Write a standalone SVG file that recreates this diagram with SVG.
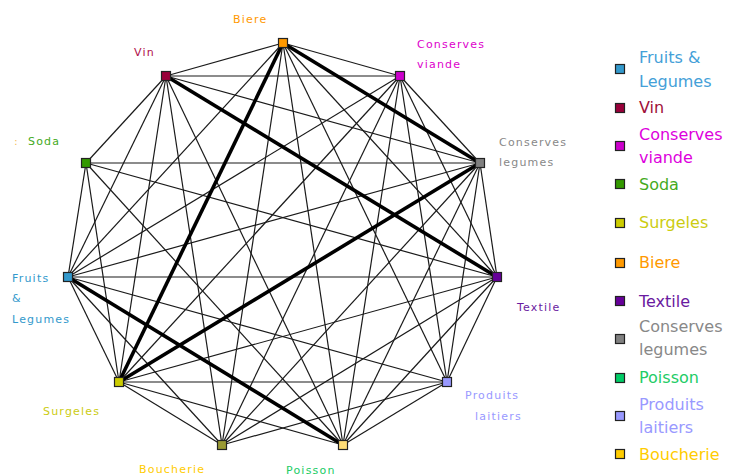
<svg xmlns="http://www.w3.org/2000/svg" width="729" height="476" viewBox="0 0 729 476">
<style>
.e{stroke:#1a1a1a;stroke-width:1.2;fill:none}
.t{stroke:#000;stroke-width:3.6;fill:none}
.n{stroke:#222;stroke-width:1.2}
.l{font-family:"DejaVu Sans",Verdana,sans-serif;font-size:11px;letter-spacing:1.2px}
.g{font-family:"DejaVu Sans",Verdana,sans-serif;font-size:16px}
</style>
<rect width="729" height="476" fill="#fff"/>
<g id="connectors">
<line class="e" x1="283" y1="43" x2="166" y2="76"/>
<line class="e" x1="283" y1="43" x2="400" y2="76"/>
<line class="e" x1="283" y1="43" x2="497" y2="277"/>
<line class="e" x1="283" y1="43" x2="447" y2="382"/>
<line class="e" x1="283" y1="43" x2="343" y2="445"/>
<line class="e" x1="283" y1="43" x2="222" y2="445"/>
<line class="e" x1="283" y1="43" x2="68" y2="277"/>
<line class="e" x1="166" y1="76" x2="400" y2="76"/>
<line class="e" x1="166" y1="76" x2="480" y2="163"/>
<line class="e" x1="166" y1="76" x2="343" y2="445"/>
<line class="e" x1="166" y1="76" x2="222" y2="445"/>
<line class="e" x1="166" y1="76" x2="119" y2="382"/>
<line class="e" x1="166" y1="76" x2="68" y2="277"/>
<line class="e" x1="166" y1="76" x2="86" y2="163"/>
<line class="e" x1="400" y1="76" x2="480" y2="163"/>
<line class="e" x1="400" y1="76" x2="497" y2="277"/>
<line class="e" x1="400" y1="76" x2="447" y2="382"/>
<line class="e" x1="400" y1="76" x2="343" y2="445"/>
<line class="e" x1="400" y1="76" x2="222" y2="445"/>
<line class="e" x1="400" y1="76" x2="119" y2="382"/>
<line class="e" x1="400" y1="76" x2="68" y2="277"/>
<line class="e" x1="86" y1="163" x2="480" y2="163"/>
<line class="e" x1="86" y1="163" x2="497" y2="277"/>
<line class="e" x1="86" y1="163" x2="343" y2="445"/>
<line class="e" x1="86" y1="163" x2="68" y2="277"/>
<line class="e" x1="86" y1="163" x2="119" y2="382"/>
<line class="e" x1="480" y1="163" x2="497" y2="277"/>
<line class="e" x1="480" y1="163" x2="447" y2="382"/>
<line class="e" x1="480" y1="163" x2="343" y2="445"/>
<line class="e" x1="480" y1="163" x2="222" y2="445"/>
<line class="e" x1="480" y1="163" x2="68" y2="277"/>
<line class="e" x1="68" y1="277" x2="497" y2="277"/>
<line class="e" x1="68" y1="277" x2="447" y2="382"/>
<line class="e" x1="68" y1="277" x2="222" y2="445"/>
<line class="e" x1="68" y1="277" x2="119" y2="382"/>
<line class="e" x1="497" y1="277" x2="447" y2="382"/>
<line class="e" x1="497" y1="277" x2="343" y2="445"/>
<line class="e" x1="497" y1="277" x2="222" y2="445"/>
<line class="e" x1="497" y1="277" x2="119" y2="382"/>
<line class="e" x1="119" y1="382" x2="447" y2="382"/>
<line class="e" x1="119" y1="382" x2="343" y2="445"/>
<line class="e" x1="119" y1="382" x2="222" y2="445"/>
<line class="e" x1="447" y1="382" x2="343" y2="445"/>
<line class="e" x1="447" y1="382" x2="222" y2="445"/>
<line class="t" x1="283" y1="43" x2="480" y2="163"/>
<line class="t" x1="283" y1="43" x2="119" y2="382"/>
<line class="t" x1="166" y1="76" x2="497" y2="277"/>
<line class="t" x1="480" y1="163" x2="119" y2="382"/>
<line class="t" x1="68" y1="277" x2="343" y2="445"/>
</g>
<g id="node-biere"><rect class="n" x="278.5" y="38.5" width="9" height="9" fill="#FF9900"/><text class="l" x="233" y="23" fill="#FF9900">Biere</text></g>
<g id="node-vin"><rect class="n" x="161.5" y="71.5" width="9" height="9" fill="#99003A"/><text class="l" x="134" y="56" fill="#B0104A">Vin</text></g>
<g id="node-conserves-viande"><rect class="n" x="395.5" y="71.5" width="9" height="9" fill="#CC00CC"/><text class="l" x="417" y="48" fill="#DD00CC">Conserves</text><text class="l" x="417" y="68" fill="#DD00CC">viande</text></g>
<g id="node-soda"><rect class="n" x="81.5" y="158.5" width="9" height="9" fill="#339900"/><text class="l" x="14" y="145" fill="#F5C060">:</text><text class="l" x="28" y="145" fill="#44AA22">Soda</text></g>
<g id="node-conserves-legumes"><rect class="n" x="475.5" y="158.5" width="9" height="9" fill="#808080"/><text class="l" x="499" y="146" fill="#888888">Conserves</text><text class="l" x="499" y="166" fill="#888888">legumes</text></g>
<g id="node-fruits"><rect class="n" x="63.5" y="272.5" width="9" height="9" fill="#3399CC"/><text class="l" x="12" y="282" fill="#3399CC">Fruits</text><text class="l" x="12" y="302" fill="#3399CC">&amp;</text><text class="l" x="12" y="323" fill="#3399CC">Legumes</text></g>
<g id="node-textile"><rect class="n" x="492.5" y="272.5" width="9" height="9" fill="#660099"/><text class="l" x="517" y="311" fill="#6A1AA0">Textile</text></g>
<g id="node-surgeles"><rect class="n" x="114.5" y="377.5" width="9" height="9" fill="#CCCC00"/><text class="l" x="43" y="415" fill="#CCCC11">Surgeles</text></g>
<g id="node-produits-laitiers"><rect class="n" x="442.5" y="377.5" width="9" height="9" fill="#9999FF"/><text class="l" x="465" y="399" fill="#9999FF">Produits</text><text class="l" x="475" y="420" fill="#9999FF">laitiers</text></g>
<g id="node-boucherie"><rect class="n" x="217.5" y="440.5" width="9" height="9" fill="#999933"/><text class="l" x="139" y="473" fill="#FFCC00">Boucherie</text></g>
<g id="node-poisson"><rect class="n" x="338.5" y="440.5" width="9" height="9" fill="#FFDD77"/><text class="l" x="286" y="474" fill="#22CC66">Poisson</text></g>
<g id="legend">
<rect class="n" x="615.5" y="64.5" width="9" height="9" fill="#3399CC"/><text class="g" x="639" y="63" fill="#44A0D8">Fruits &amp;</text><text class="g" x="639" y="87" fill="#44A0D8">Legumes</text>
<rect class="n" x="615.5" y="103.5" width="9" height="9" fill="#99003A"/><text class="g" x="639" y="113" fill="#A0103A">Vin</text>
<rect class="n" x="615.5" y="141.5" width="9" height="9" fill="#CC00CC"/><text class="g" x="639" y="140" fill="#DD00DD">Conserves</text><text class="g" x="639" y="163" fill="#DD00DD">viande</text>
<rect class="n" x="615.5" y="179.5" width="9" height="9" fill="#339900"/><text class="g" x="639" y="190" fill="#44AA22">Soda</text>
<rect class="n" x="615.5" y="218.5" width="9" height="9" fill="#CCCC00"/><text class="g" x="639" y="228" fill="#CCCC11">Surgeles</text>
<rect class="n" x="615.5" y="258.5" width="9" height="9" fill="#FF9900"/><text class="g" x="639" y="268" fill="#FF9900">Biere</text>
<rect class="n" x="615.5" y="296.5" width="9" height="9" fill="#660099"/><text class="g" x="639" y="307" fill="#6A1AA0">Textile</text>
<rect class="n" x="615.5" y="334.5" width="9" height="9" fill="#808080"/><text class="g" x="639" y="332" fill="#888888">Conserves</text><text class="g" x="639" y="355" fill="#888888">legumes</text>
<rect class="n" x="615.5" y="373.5" width="9" height="9" fill="#00CC66"/><text class="g" x="639" y="383" fill="#22CC66">Poisson</text>
<rect class="n" x="615.5" y="411.5" width="9" height="9" fill="#9999FF"/><text class="g" x="639" y="410" fill="#9999FF">Produits</text><text class="g" x="639" y="433" fill="#9999FF">laitiers</text>
<rect class="n" x="615.5" y="449.5" width="9" height="9" fill="#FFCC00"/><text class="g" x="639" y="460" fill="#FFCC00">Boucherie</text>
</g>
</svg>
